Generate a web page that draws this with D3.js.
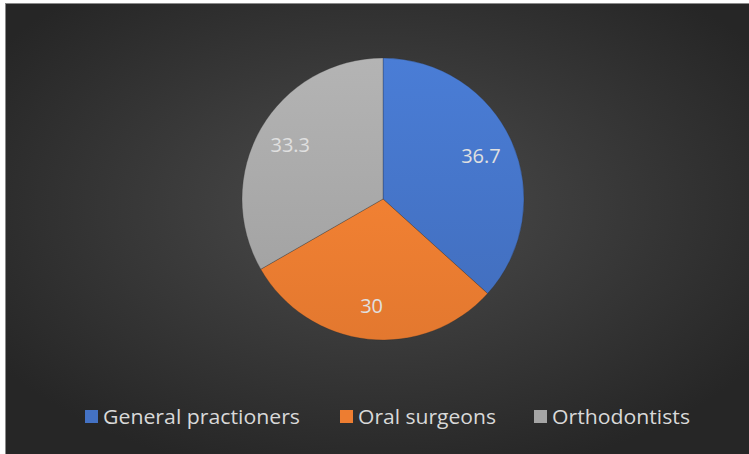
<!DOCTYPE html>
<html><head><meta charset="utf-8">
<script src="https://cdn.jsdelivr.net/npm/d3@7"></script>
<style>html,body{margin:0;padding:0;background:#fff;}svg{display:block;}</style>
</head><body>
<svg id="c" width="749" height="454"></svg>
<script>
const categories = ["General practioners", "Oral surgeons", "Orthodontists"];
const values = [36.7, 30, 33.3];
const labels = ["36.7", "30", "33.3"];
const colors = ["#4472c4", "#ed7d31", "#a5a5a5"];

const W = 749, H = 454;
const svg = d3.select("#c");
const defs = svg.append("defs");

const bg = defs.append("radialGradient").attr("id", "bg")
  .attr("cx", "50%").attr("cy", "45%").attr("r", "62%");
bg.append("stop").attr("offset", "0%").attr("stop-color", "#4c4c4c");
bg.append("stop").attr("offset", "100%").attr("stop-color", "#262626");

colors.forEach((c, i) => {
  const g = defs.append("linearGradient").attr("id", "sg" + i)
    .attr("gradientUnits", "userSpaceOnUse")
    .attr("x1", 0).attr("y1", -140).attr("x2", 0).attr("y2", 140);
  g.append("stop").attr("offset", "0%").attr("stop-color", d3.color(c).brighter(0.25));
  g.append("stop").attr("offset", "100%").attr("stop-color", d3.color(c).darker(0.12));
});

// frame
svg.append("rect").attr("x", 5).attr("y", 3).attr("width", W - 5).attr("height", H - 3)
  .attr("fill", "#8a8a8a");
svg.append("rect").attr("x", 6).attr("y", 4).attr("width", W - 6).attr("height", H - 4)
  .attr("fill", "url(#bg)");

const cx = 383, cy = 199, r = 141;
const pie = d3.pie().sort(null).value(d => d);
const arcs = pie(values);
const arc = d3.arc().innerRadius(0).outerRadius(r);
const labelArc = d3.arc().innerRadius(r * 0.76).outerRadius(r * 0.76);

const g = svg.append("g").attr("transform", `translate(${cx},${cy})`);
g.selectAll("path.s").data(arcs).enter().append("path")
  .attr("class", "s")
  .attr("d", arc)
  .attr("fill", (d, i) => `url(#sg${i})`)
  .attr("stroke", "rgba(40,40,40,0.35)")
  .attr("stroke-width", 0.8);

g.selectAll("text.l").data(arcs).enter().append("text")
  .attr("class", "l")
  .attr("transform", d => `translate(${labelArc.centroid(d)})`)
  .attr("text-anchor", "middle")
  .attr("dy", "0.35em")
  .attr("font-family", "Open Sans, sans-serif")
  .attr("font-size", 20)
  .attr("fill", "#e0e0e0")
  .text((d, i) => labels[i]);

// legend
const legendX = [85, 340, 534];
const legendW = [197, 138, 138];
const leg = svg.append("g");
categories.forEach((c, i) => {
  leg.append("rect").attr("x", legendX[i]).attr("y", 410)
    .attr("width", 13).attr("height", 13).attr("fill", colors[i]);
  leg.append("text").attr("x", legendX[i] + 18).attr("y", 417)
    .attr("dy", "0.35em")
    .attr("font-family", "Open Sans, sans-serif")
    .attr("font-size", 20)
    .attr("textLength", legendW[i])
    .attr("lengthAdjust", "spacingAndGlyphs")
    .attr("fill", "#d9d9d9")
    .text(c);
});
</script>
</body></html>
